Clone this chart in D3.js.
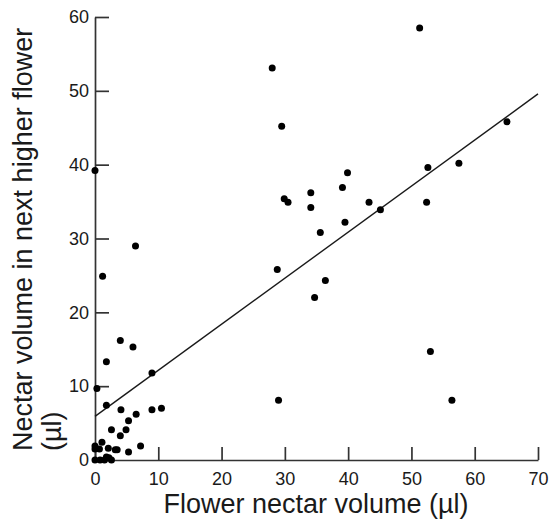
<!DOCTYPE html>
<html>
<head>
<meta charset="utf-8">
<script src="https://cdn.jsdelivr.net/npm/d3@7"></script>
<style>
  body { margin: 0; background: #fff; }
  svg { display: block; font-family: "Liberation Sans", Arial, sans-serif; }
</style>
</head>
<body>
<svg id="chart" width="551" height="519"></svg>
<script>
// flower nectar volume (µl) vs volume in next higher flower (µl)
const flowerVol = [
  51.3, 28.0, 29.5, 65.1, 52.6, 57.5, 39.9, 39.1, 34.1, 29.9, 30.5, 34.1,
  43.3, 52.4, 45.1, 39.5, 35.6, 28.8, 36.4, 34.7, 53.0, 29.0, 56.4,
  0.0, 6.4, 1.2, 4.0, 6.0, 1.8, 9.0, 0.3, 1.8, 4.1, 9.0, 10.5, 6.5,
  5.3, 2.6, 4.9, 4.0, 1.1, 0.0, 0.0, 2.1, 0.7, 3.2, 3.5, 7.2, 5.3,
  0.0, 0.8, 1.5, 1.8, 2.2, 2.6
];
const nextVol = [
  58.5, 53.1, 45.2, 45.8, 39.6, 40.2, 38.9, 36.9, 36.2, 35.4, 34.9, 34.2,
  34.9, 34.9, 33.9, 32.2, 30.8, 25.8, 24.3, 22.0, 14.7, 8.1, 8.1,
  39.2, 29.0, 24.9, 16.2, 15.3, 13.3, 11.8, 9.7, 7.4, 6.8, 6.8, 7.0, 6.2,
  5.3, 4.1, 4.1, 3.3, 2.4, 1.9, 1.5, 1.6, 1.5, 1.4, 1.4, 1.9, 1.1,
  0.0, 0.0, 0.0, 0.4, 0.3, 0.0
];
// regression line: y = a + b x
const fitIntercept = 5.9;
const fitSlope = 0.624;
const xTicks = [0, 10, 20, 30, 40, 50, 60, 70];
const yTicks = [0, 10, 20, 30, 40, 50, 60];

const svg = d3.select('#chart');
const x = d3.scaleLinear().domain([0, 70]).range([95, 538]);
const y = d3.scaleLinear().domain([0, 60]).range([460, 17]);
const ink = '#1a1a1a';

const xAxis = svg.append('g')
  .attr('transform', `translate(0,${y(0)})`)
  .call(d3.axisBottom(x).tickValues(xTicks).tickSize(-13).tickSizeOuter(0).tickPadding(12));
const yAxis = svg.append('g')
  .attr('transform', `translate(${x(0)},0)`)
  .call(d3.axisLeft(y).tickValues(yTicks).tickSize(-14).tickSizeOuter(0).tickPadding(6));

[xAxis, yAxis].forEach((g) => {
  g.select('.domain').attr('stroke', '#333').attr('stroke-width', 1.7);
  g.selectAll('.tick line').attr('stroke', '#333').attr('stroke-width', 1.7);
  g.selectAll('.tick text').attr('fill', ink).attr('font-size', 18);
});

svg.append('line')
  .attr('x1', x(0)).attr('y1', y(fitIntercept))
  .attr('x2', x(70)).attr('y2', y(fitIntercept + fitSlope * 70))
  .attr('stroke', ink).attr('stroke-width', 1.4);

svg.append('g').selectAll('circle')
  .data(flowerVol)
  .join('circle')
  .attr('cx', (d) => x(d))
  .attr('cy', (d, i) => y(nextVol[i]))
  .attr('r', 3.5)
  .attr('fill', '#000');

svg.append('text')
  .attr('x', 316).attr('y', 513)
  .attr('text-anchor', 'middle')
  .attr('font-size', 27).attr('fill', ink)
  .text('Flower nectar volume (µl)');

const yTitle = svg.append('text')
  .attr('transform', 'translate(32,451) rotate(-90)')
  .attr('font-size', 27).attr('fill', ink);
yTitle.append('tspan').attr('x', 0).attr('y', 0).text('Nectar volume in next higher flower');
yTitle.append('tspan').attr('x', 0).attr('y', 29).text('(µl)');
</script>
</body>
</html>
